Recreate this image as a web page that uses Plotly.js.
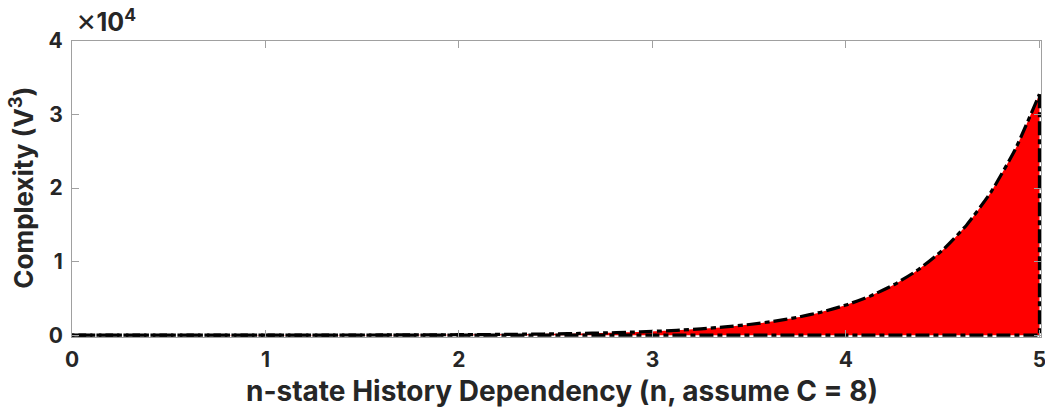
<!DOCTYPE html>
<html>
<head>
<meta charset="utf-8">
<script src="https://cdn.plot.ly/plotly-3.0.1.min.js"></script>
<style>html,body{margin:0;padding:0;background:#fff;}#chart{width:1045px;height:415px;}</style>
</head>
<body>
<div id="chart"></div>
<script>
// n-state history dependency values (x) and complexity V^3 (y)
const nValues = [0, 0.125, 0.25, 0.375, 0.5, 0.625, 0.75, 0.875, 1, 1.125, 1.25, 1.375, 1.5, 1.625, 1.75, 1.875,
  2, 2.125, 2.25, 2.375, 2.5, 2.625, 2.75, 2.875, 3, 3.125, 3.25, 3.375, 3.5, 3.625, 3.75, 3.875,
  4, 4.125, 4.25, 4.375, 4.5, 4.625, 4.75, 4.875, 5];
const complexity = [1, 1.3, 1.7, 2.2, 2.8, 3.7, 4.8, 6.2, 8, 10.4, 13.5, 17.5, 22.6, 29.3, 38, 49.4,
  64, 83, 108, 140, 181, 235, 304, 395, 512, 664, 861, 1117, 1448, 1878, 2435, 3158,
  4096, 5312, 6889, 8934, 11585, 15024, 19484, 25268, 32768];
const yTickVals = [0, 10000, 20000, 30000, 40000];
const yTickText = ['0', '1', '2', '3', '4'];
const xTickVals = [0, 1, 2, 3, 4, 5];

// base and right edge of the filled region
const lastN = nValues[nValues.length - 1];
const lastC = complexity[complexity.length - 1];
const edgeX = [lastN, lastN, nValues[0]];
const edgeY = [lastC, 0, 0];

const FONT = 'Inter, "Liberation Sans", Arial, sans-serif';
const TXT = '#262626';
const DASH = '14px,4px,5px,4px';

const traces = [
  {
    x: nValues, y: complexity, type: 'scatter', mode: 'lines',
    fill: 'tozeroy', fillcolor: '#ff0000',
    line: {color: 'rgba(0,0,0,0)', width: 0, shape: 'spline', smoothing: 0.5},
    hoverinfo: 'skip', showlegend: false
  },
  {
    x: edgeX, y: edgeY, type: 'scatter', mode: 'lines',
    line: {color: '#000', width: 3.2, dash: DASH},
    showlegend: false
  },
  {
    x: nValues, y: complexity, type: 'scatter', mode: 'lines',
    line: {color: '#000', width: 3.2, dash: DASH, shape: 'spline', smoothing: 0.5},
    showlegend: false
  }
];

const axisCommon = {
  showgrid: false, zeroline: false, showline: true, linecolor: '#a0a0a0', linewidth: 1,
  mirror: 'ticks', ticks: 'inside', ticklen: 7, tickcolor: '#a0a0a0', tickwidth: 1,
  tickfont: {family: FONT, size: 21, color: TXT, weight: 'bold'}
};

const layout = {
  width: 1045, height: 415,
  margin: {l: 72, r: 4, t: 41, b: 78},
  paper_bgcolor: '#fff', plot_bgcolor: '#fff',
  xaxis: Object.assign({}, axisCommon, {
    range: [0, 5.008], tickmode: 'array', tickvals: xTickVals, ticklabelstandoff: 4,
    ticklabeloverflow: 'allow', automargin: false
  }),
  yaxis: Object.assign({}, axisCommon, {
    range: [-250, 40000], tickmode: 'array', tickvals: yTickVals, ticktext: yTickText, ticklabelstandoff: 4,
    automargin: false
  }),
  annotations: [
    {text: '<span style="font-size:31px">×</span><b>10<sup>4</sup></b>', xref: 'paper', yref: 'paper', x: 0.002, y: 1, xanchor: 'left', yanchor: 'bottom',
     yshift: 1, showarrow: false, font: {family: FONT, size: 25, color: TXT}},
    {text: '<b>Complexity (V<sup>3</sup>)</b>', xref: 'paper', yref: 'paper', x: -0.052, y: 0.503, xanchor: 'center', yanchor: 'middle',
     textangle: -90, showarrow: false, font: {family: FONT, size: 26, color: TXT}},
    {text: '<b>n-state History Dependency (n, assume C = 8)</b>', xref: 'paper', yref: 'paper', x: 0.506, y: -0.181,
     xanchor: 'center', yanchor: 'middle', showarrow: false, font: {family: FONT, size: 28, color: TXT}}
  ]
};

Plotly.newPlot('chart', traces, layout, {displayModeBar: false, staticPlot: true});
</script>
</body>
</html>
